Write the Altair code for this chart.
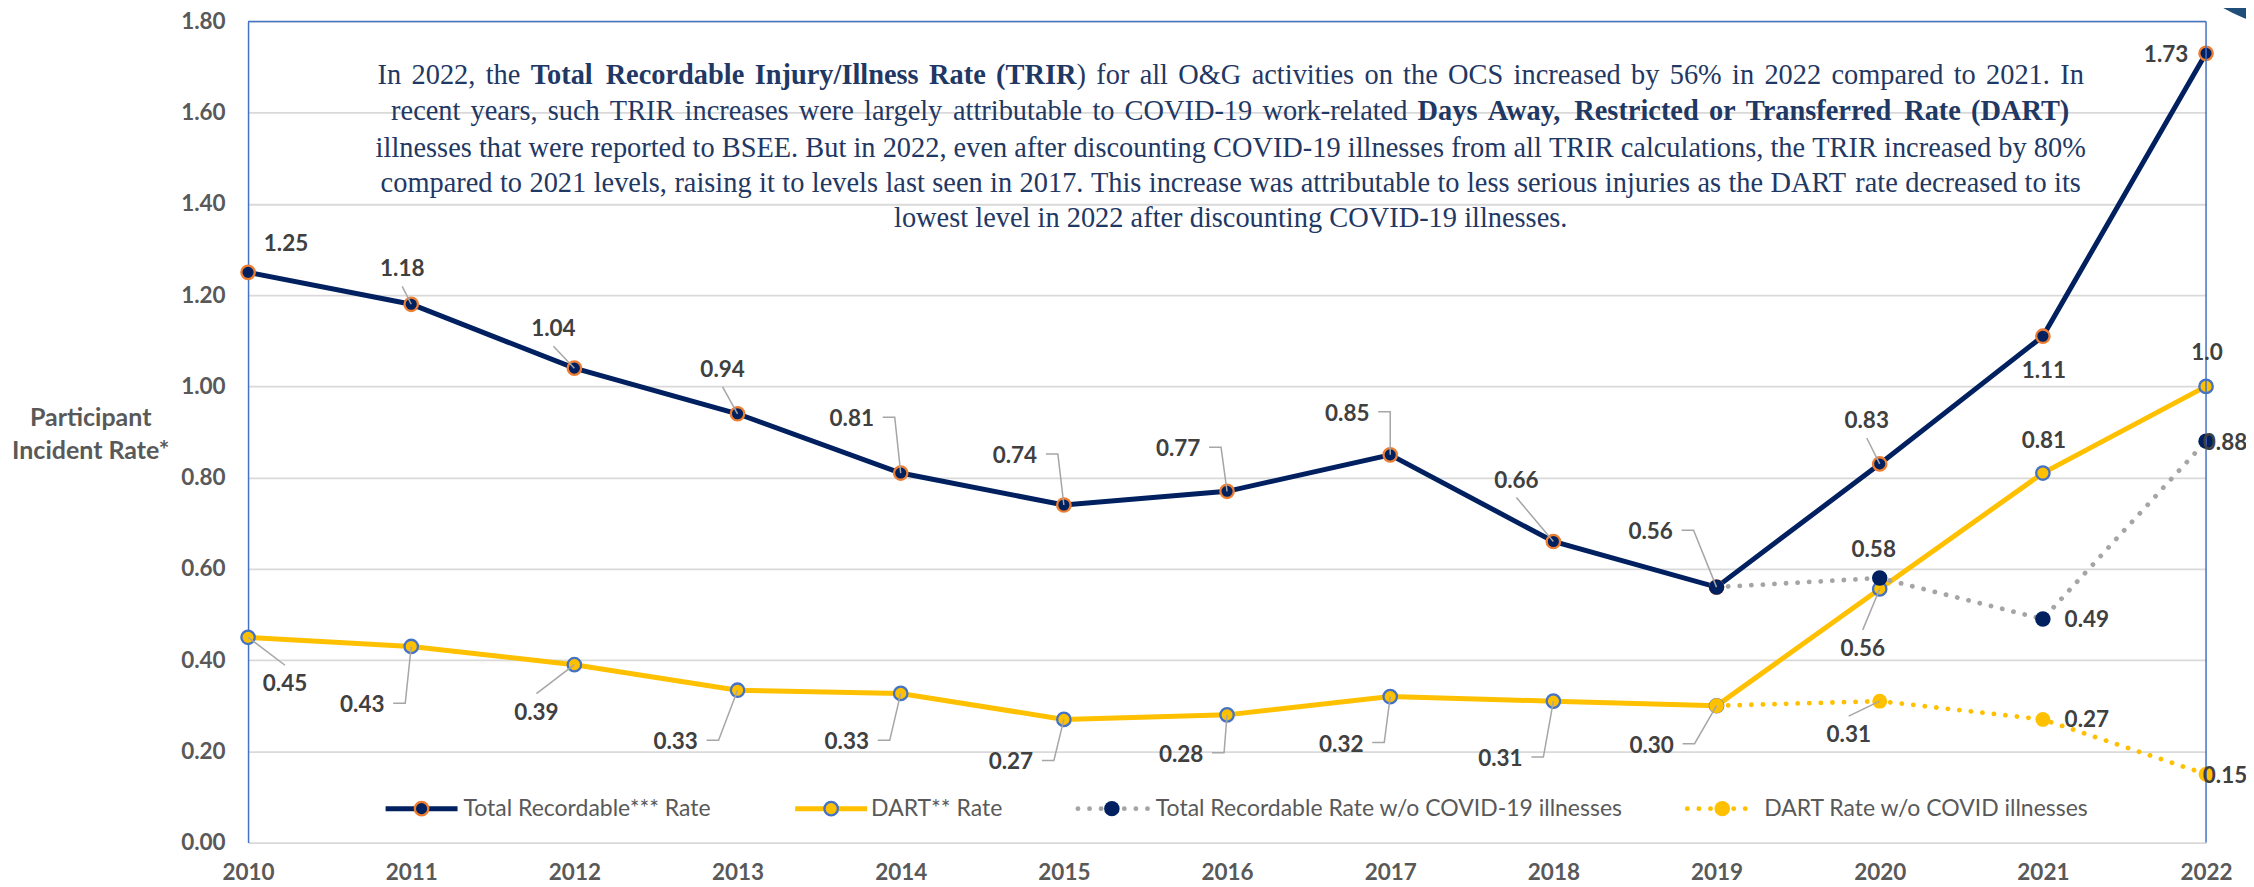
import glob
import re
import struct

import altair as alt
import pandas as pd

# ---------------- data ----------------
years = list(range(2010, 2023))
trir = [1.25, 1.18, 1.04, 0.94, 0.81, 0.74, 0.77, 0.85, 0.66, 0.56, 0.83, 1.11, 1.73]
dart = [0.45, 0.43, 0.39, 0.334, 0.327, 0.27, 0.28, 0.32, 0.31, 0.30, 0.556, 0.81, 1.00]
trir_text = ["1.25", "1.18", "1.04", "0.94", "0.81", "0.74", "0.77", "0.85", "0.66", "0.56", "0.83", "1.11", "1.73"]
dart_text = ["0.45", "0.43", "0.39", "0.33", "0.33", "0.27", "0.28", "0.32", "0.31", "0.30", "0.56", "0.81", "1.0"]
wo_years = [2019, 2020, 2021, 2022]
wo_trir = [0.56, 0.58, 0.49, 0.88]
wo_dart = [0.30, 0.31, 0.27, 0.15]
wo_trir_text = [None, "0.58", "0.49", "0.88"]
wo_dart_text = [None, "0.31", "0.27", "0.15"]
y_ticks = [0.0, 0.2, 0.4, 0.6, 0.8, 1.0, 1.2, 1.4, 1.6, 1.8]
legend_names = ["Total Recordable*** Rate", "DART** Rate",
                "Total Recordable Rate w/o COVID-19 illnesses", "DART Rate w/o COVID illnesses"]
y_title = ["Participant", "Incident Rate*"]
note_lines = [
    [("In 2022, the ", False), ("Total Recordable Injury/Illness Rate (TRIR", True),
     (") for all O&G activities on the OCS increased by 56% in 2022 compared to 2021. In", False)],
    [("recent years, such TRIR increases were largely attributable to COVID-19 work-related ", False),
     ("Days Away, Restricted or Transferred Rate (DART)", True)],
    [("illnesses that were reported to BSEE. But in 2022, even after discounting COVID-19 illnesses from all TRIR calculations, the TRIR increased by 80%", False)],
    [("compared to 2021 levels, raising it to levels last seen in 2017. This increase was attributable to less serious injuries as the DART rate decreased to its", False)],
    [("lowest level in 2022 after discounting COVID-19 illnesses.", False)],
]

# ---------------- layout (pixels) ----------------
W, H = 1960, 822
PX_YR = W / 12.0
PX_V = H / 1.8
NAVY, ORANGE, GOLD, BLUE, GREY = "#002060", "#ED7D31", "#FFC000", "#4472C4", "#A5A5A5"
LABEL_C = "#404040"
AXIS_C = "#595959"
SANS = "Lato"
SERIF = "Liberation Serif"
LBL_SIZE = 22.5

# label offsets from point (dx, dy in px) and leader style
trir_lay = [(38, -28, "n"), (-9, -35, "u"), (-21, -39, "u"), (-15, -44, "u"), (-49, -54, "e"),
            (-49, -49, "e"), (-49, -42, "e"), (-43, -41, "e"), (-37, -61, "u"), (-66, -55, "e"),
            (-13, -43, "u"), (1, 35, "n"), (-40, 2, "n")]
dart_lay = [(37, 47, "d"), (-49, 59, "e"), (-38, 48, "d"), (-62, 52, "e"), (-54, 49, "e"),
            (-53, 43, "e"), (-46, 40, "e"), (-49, 48, "e"), (-53, 58, "e"), (-65, 40, "e"),
            (-17, 60, "d"), (1, -32, "n"), (1, -33, "n")]
wo_trir_lay = [None, (-6, -28, "n"), (44, 1, "n"), (19, 2, "n")]
wo_dart_lay = [None, (-31, 34, "d"), (44, 1, "n"), (19, 2, "n")]


def to_yr(px):
    return 2010 + px / PX_YR


def to_v(py):
    return (H - py) / PX_V


labels, leaders = [], []
lid = 0


def add_labels(yrs, vals, texts, lays):
    global lid
    for yr, v, t, lay in zip(yrs, vals, texts, lays):
        if t is None:
            continue
        dx, dy, kind = lay
        px = (yr - 2010) * PX_YR
        py = H - v * PX_V
        lx, ly = px + dx, py + dy
        labels.append({"lx": to_yr(lx), "ly": to_v(ly), "text": t})
        pts = []
        if kind == "u":
            pts = [(lx, ly + 17), (px, py)]
        elif kind == "d":
            pts = [(lx, ly - 19), (px, py)]
        elif kind == "e":
            pts = [(lx + 31, ly - 2), (lx + 43, ly - 2), (px, py)]
        for k, (a, b) in enumerate(pts):
            leaders.append({"id": lid, "ord": k, "x": to_yr(a), "y": to_v(b)})
        lid += 1


add_labels(years, trir, trir_text, trir_lay)
add_labels(years, dart, dart_text, dart_lay)
add_labels(wo_years, wo_trir, wo_trir_text, wo_trir_lay)
add_labels(wo_years, wo_dart, wo_dart_text, wo_dart_lay)
labels_df = pd.DataFrame(labels)
leaders_df = pd.DataFrame(leaders)

trir_df = pd.DataFrame({"year": years, "value": trir})
dart_df = pd.DataFrame({"year": years, "value": dart})
wot_df = pd.DataFrame({"year": wo_years, "value": wo_trir})
wod_df = pd.DataFrame({"year": wo_years, "value": wo_dart})


# ---------------- font metrics for the mixed-weight note ----------------
def load_metrics(name):
    paths = glob.glob("/usr/share/fonts/**/" + name, recursive=True) + \
        glob.glob("/usr/local/share/fonts/**/" + name, recursive=True)
    if not paths:
        return None
    try:
        data = open(paths[0], "rb").read()
        n = struct.unpack(">H", data[4:6])[0]
        tabs = {}
        for i in range(n):
            tag, _, off, ln = struct.unpack(">4sIII", data[12 + 16 * i:28 + 16 * i])
            tabs[tag.decode("latin1")] = off
        upem = struct.unpack(">H", data[tabs["head"] + 18:tabs["head"] + 20])[0]
        nhm = struct.unpack(">H", data[tabs["hhea"] + 34:tabs["hhea"] + 36])[0]
        hm = tabs["hmtx"]
        adv = [struct.unpack(">H", data[hm + 4 * i:hm + 4 * i + 2])[0] for i in range(nhm)]
        cm = tabs["cmap"]
        nsub = struct.unpack(">H", data[cm + 2:cm + 4])[0]
        cmap = {}
        for i in range(nsub):
            pid, eid, off = struct.unpack(">HHI", data[cm + 4 + 8 * i:cm + 12 + 8 * i])
            sub = cm + off
            fmt = struct.unpack(">H", data[sub:sub + 2])[0]
            if fmt != 4:
                continue
            sx2 = struct.unpack(">H", data[sub + 6:sub + 8])[0]
            seg = sx2 // 2
            ends = struct.unpack(">%dH" % seg, data[sub + 14:sub + 14 + sx2])
            starts = struct.unpack(">%dH" % seg, data[sub + 16 + sx2:sub + 16 + 2 * sx2])
            deltas = struct.unpack(">%dh" % seg, data[sub + 16 + 2 * sx2:sub + 16 + 3 * sx2])
            rpos = sub + 16 + 3 * sx2
            roffs = struct.unpack(">%dH" % seg, data[rpos:rpos + sx2])
            for s in range(seg):
                for c in range(starts[s], min(ends[s], 0x2FF) + 1):
                    if roffs[s] == 0:
                        g = (c + deltas[s]) & 0xFFFF
                    else:
                        a = rpos + 2 * s + roffs[s] + 2 * (c - starts[s])
                        g = struct.unpack(">H", data[a:a + 2])[0]
                        if g:
                            g = (g + deltas[s]) & 0xFFFF
                    cmap[c] = g
            break
        return (upem, adv, cmap)
    except Exception:
        return None


MET = {False: load_metrics("LiberationSerif-Regular.ttf"), True: load_metrics("LiberationSerif-Bold.ttf")}


def tw(s, bold, size):
    m = MET[bold]
    if m is None:
        return len(s) * size * (0.47 if bold else 0.44)
    upem, adv, cmap = m
    tot = 0
    for ch in s:
        g = cmap.get(ord(ch), 0)
        tot += adv[min(g, len(adv) - 1)]
    return tot * size / upem


note_size = 1712.0 / tw(note_lines[2][0][0], False, 1.0)
note_size = max(20.0, min(32.0, note_size))
NOTE_CX = 983.7
NOTE_Y = [54, 90, 127, 162, 197]
NOTE_W = [1708, 1681, 1712, 1702, None]
segs = []
for li, line in enumerate(note_lines):
    items = []
    for s, b in line:
        for p in re.split(r"( )", s):
            if p:
                items.append((p, b, p == " "))
    while items and items[-1][2]:
        items.pop()
    nat = sum(tw(p, b, note_size) for p, b, _ in items)
    nsp = sum(1 for it in items if it[2])
    extra = (NOTE_W[li] - nat) / nsp if (NOTE_W[li] and nsp) else 0.0
    x = NOTE_CX - (nat + extra * nsp) / 2
    for p, b, sp in items:
        if sp:
            x += tw(p, b, note_size) + extra
        else:
            segs.append({"px": x, "py": NOTE_Y[li], "text": p, "bold": b})
            x += tw(p, b, note_size)
segs_df = pd.DataFrame(segs)

# ---------------- scales / axes ----------------
xscale = alt.Scale(domain=[2010, 2022], nice=False, zero=False)
yscale = alt.Scale(domain=[0, 1.8], nice=False)
xaxis = alt.Axis(values=years, format="d", labelFont=SANS, labelFontWeight="bold", labelFontSize=LBL_SIZE,
                 labelColor=AXIS_C, labelPadding=19, ticks=False, domain=False, grid=False,
                 title=None, labelFlush=False)
yaxis = alt.Axis(values=y_ticks, format=".2f", labelFont=SANS, labelFontWeight="bold",
                 labelFontSize=LBL_SIZE, labelColor=AXIS_C, labelPadding=23, ticks=False,
                 domain=True, domainColor=BLUE, domainWidth=1.5, grid=True, gridColor="#D9D9D9",
                 gridWidth=1.8, title=y_title, titleAngle=0, titleAlign="center",
                 titleBaseline="middle", titleX=-158, titleY=396, titleFont=SANS,
                 titleFontSize=25, titleFontWeight="bold", titleColor=AXIS_C, titleLineHeight=33.5)


def X(f="year"):
    return alt.X(f + ":Q", scale=xscale, axis=xaxis)


def Y(f="value"):
    return alt.Y(f + ":Q", scale=yscale, axis=yaxis)


one = pd.DataFrame({"a": [0]})

frame_top = alt.Chart(one).mark_rule(color=BLUE, strokeWidth=1.5).encode(
    x=alt.value(0), x2=alt.value(W), y=alt.value(0))
frame_right = alt.Chart(one).mark_rule(color=BLUE, strokeWidth=1.5).encode(
    x=alt.value(W), y=alt.value(0), y2=alt.value(H))

dart_line = alt.Chart(dart_df).mark_line(color=GOLD, strokeWidth=5).encode(x=X(), y=Y())
trir_line = alt.Chart(trir_df).mark_line(color=NAVY, strokeWidth=5).encode(x=X(), y=Y())
dart_pts = alt.Chart(dart_df).mark_point(shape="circle", filled=True, fill=GOLD, stroke=BLUE,
                                          strokeWidth=2.3, size=180, opacity=1).encode(x=X(), y=Y())
trir_pts = alt.Chart(trir_df).mark_point(shape="circle", filled=True, fill=NAVY, stroke=ORANGE,
                                          strokeWidth=2.3, size=180, opacity=1).encode(x=X(), y=Y())
wot_line = alt.Chart(wot_df).mark_line(color=GREY, strokeWidth=4.8, strokeDash=[0.1, 11.5],
                                       strokeCap="round").encode(x=X(), y=Y())
wot_pts = alt.Chart(wot_df).mark_point(shape="circle", filled=True, color=NAVY, size=240,
                                       opacity=1).encode(x=X(), y=Y())
wod_line = alt.Chart(wod_df).mark_line(color=GOLD, strokeWidth=4.8, strokeDash=[0.1, 11.5],
                                       strokeCap="round").encode(x=X(), y=Y())
wod_pts = alt.Chart(wod_df).mark_point(shape="circle", filled=True, color=GOLD, size=220,
                                       opacity=1).encode(x=X(), y=Y())

leader_layer = alt.Chart(leaders_df).mark_line(color="#A6A6A6", strokeWidth=1.5).encode(
    x=X("x"), y=Y("y"), detail="id:N", order="ord:Q")
label_layer = alt.Chart(labels_df).mark_text(font=SANS, fontWeight="bold", fontSize=LBL_SIZE,
                                             color=LABEL_C, baseline="middle").encode(
    x=X("lx"), y=Y("ly"), text="text:N")

PX = lambda f: alt.X(f + ":Q", scale=None, axis=None)
PY = lambda f: alt.Y(f + ":Q", scale=None, axis=None)

note_plain = alt.Chart(segs_df[~segs_df["bold"]]).mark_text(
    font=SERIF, fontSize=note_size, color="#1F3864", align="left", baseline="middle").encode(
    x=PX("px"), y=PY("py"), text="text:N")
note_bold = alt.Chart(segs_df[segs_df["bold"]]).mark_text(
    font=SERIF, fontSize=note_size, fontWeight="bold", color="#1F3864", align="left",
    baseline="middle").encode(x=PX("px"), y=PY("py"), text="text:N")

# ---------------- legend ----------------
LY = 788
leg_solid = pd.DataFrame({"x": [137.7, 547.7], "x2": [209.7, 619.7], "y": [LY, LY],
                          "c": [NAVY, GOLD]})
leg_dot = pd.DataFrame({"x": [830.7, 1440.7], "x2": [901.7, 1506.7], "y": [LY, LY],
                        "c": [GREY, GOLD]})
leg_mark = pd.DataFrame({"x": [173.7, 583.7], "y": [LY, LY], "f": [NAVY, GOLD],
                         "s": [ORANGE, BLUE]})
leg_dots = pd.DataFrame({"x": [864.7, 1475.7], "y": [LY, LY], "f": [NAVY, GOLD]})
leg_text = pd.DataFrame({"x": [215.7, 623.7, 908.7, 1517.7], "y": [LY] * 4, "t": legend_names})

l1 = alt.Chart(leg_solid).mark_rule(strokeWidth=5).encode(
    x=PX("x"), x2="x2:Q", y=PY("y"), color=alt.Color("c:N", scale=None))
l2 = alt.Chart(leg_dot).mark_rule(strokeWidth=4.8, strokeDash=[0.1, 11.5], strokeCap="round").encode(
    x=PX("x"), x2="x2:Q", y=PY("y"), color=alt.Color("c:N", scale=None))
l3 = alt.Chart(leg_mark).mark_point(shape="circle", filled=True, strokeWidth=2.3, size=180,
                                    opacity=1).encode(
    x=PX("x"), y=PY("y"), fill=alt.Fill("f:N", scale=None), stroke=alt.Stroke("s:N", scale=None))
l4 = alt.Chart(leg_dots).mark_point(shape="circle", filled=True, size=240, opacity=1).encode(
    x=PX("x"), y=PY("y"), color=alt.Color("f:N", scale=None))
l5 = alt.Chart(leg_text).mark_text(font=SANS, fontSize=23, color=AXIS_C, align="left",
                                   baseline="middle").encode(x=PX("x"), y=PY("y"), text="t:N")

deco = alt.Chart(one).mark_point(shape="circle", filled=True, color="#1F4E79", size=115600,
                                 opacity=1).encode(x=alt.value(2061.7), y=alt.value(-161))

chart = alt.layer(
    dart_line, trir_line, dart_pts, trir_pts, wot_line, wot_pts, wod_line, wod_pts,
    frame_top, frame_right, leader_layer, label_layer, note_plain, note_bold,
    l1, l2, l3, l4, l5, deco
).properties(
    width=W, height=H,
    autosize=alt.AutoSizeParams(type="none"),
    padding={"left": 240.3, "top": 13, "right": 40, "bottom": 42},
    background="white",
).configure_view(stroke=None)

chart.save("out.html", embed_options={"renderer": "svg", "actions": False})
